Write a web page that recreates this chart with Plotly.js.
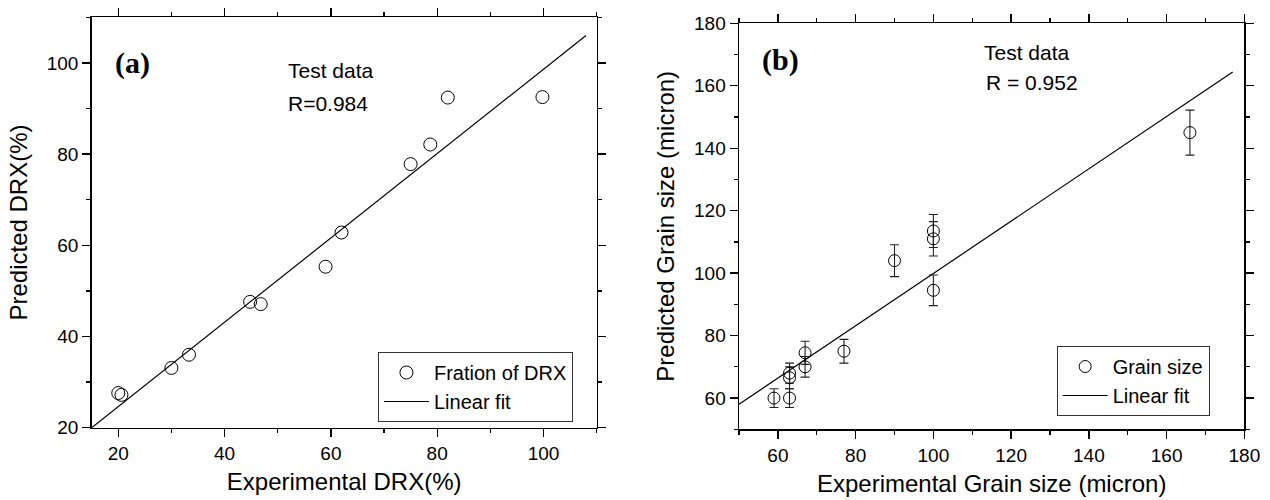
<!DOCTYPE html>
<html>
<head>
<meta charset="utf-8">
<script src="https://cdn.plot.ly/plotly-3.0.1.min.js"></script>
<style>html,body{margin:0;padding:0;background:#fff;}</style>
</head>
<body>
<div id="chart" style="width:1270px;height:500px;"></div>
<script>
// ---- Panel (a): fraction of DRX ----
const drxExperimental = [20, 20.6, 30, 33.3, 44.8, 46.8, 59, 62, 75, 78.7, 82, 99.8];
const drxPredicted    = [27.6, 27.2, 33.1, 36, 47.6, 47.1, 55.3, 62.8, 77.8, 82.1, 92.4, 92.5];
const drxFitX = [15, 108];
const drxFitY = [20, 106];

// ---- Panel (b): grain size ----
const grainExperimental = [59, 63, 63, 63, 67, 67, 77, 90, 100, 100, 100, 166];
const grainPredicted    = [60, 60, 66.5, 68, 70, 74.5, 75, 104, 94.5, 111, 113.5, 145];
const grainError        = [3, 3, 3.5, 3.2, 3.3, 3.7, 3.8, 5.1, 4.9, 5.5, 5.3, 7.2];
const grainFitX = [50, 177];
const grainFitY = [58, 164.4];

const FONT = 'Liberation Sans, Arial, sans-serif';

function axisBase(extra) {
  return Object.assign({
    showline: true, linewidth: 1.5, linecolor: 'black', mirror: 'allticks',
    ticks: 'outside', ticklen: 8, tickwidth: 1.3, tickcolor: 'black',
    showgrid: false, zeroline: false, tick0: 0, dtick: 20,
    tickfont: {family: FONT, size: 19, color: 'black'},
    minor: {dtick: 10, tick0: 0, ticks: 'outside', ticklen: 4, tickwidth: 1.3, tickcolor: 'black', showgrid: false}
  }, extra);
}

const traces = [
  {x: drxExperimental, y: drxPredicted, type: 'scatter', mode: 'markers', name: 'Fration of DRX',
   xaxis: 'x', yaxis: 'y', legend: 'legend',
   marker: {symbol: 'circle-open', size: 13, color: 'black', line: {width: 1, color: 'black'}}},
  {x: drxFitX, y: drxFitY, type: 'scatter', mode: 'lines', name: 'Linear fit',
   xaxis: 'x', yaxis: 'y', legend: 'legend', line: {color: 'black', width: 1.2}},
  {x: grainExperimental, y: grainPredicted, type: 'scatter', mode: 'markers', name: 'Grain size',
   xaxis: 'x2', yaxis: 'y2', legend: 'legend2',
   marker: {symbol: 'circle-open', size: 12, color: 'black', line: {width: 1, color: 'black'}},
   error_y: {type: 'data', array: grainError, visible: true, color: '#222', thickness: 1.1, width: 4.5}},
  {x: grainFitX, y: grainFitY, type: 'scatter', mode: 'lines', name: 'Linear fit',
   xaxis: 'x2', yaxis: 'y2', legend: 'legend2', line: {color: 'black', width: 1.2}}
];

const legendBase = {
  xanchor: 'left', yanchor: 'top', bgcolor: 'white', bordercolor: '#333', borderwidth: 1,
  font: {family: FONT, size: 20, color: 'black'}, tracegroupgap: 0, itemwidth: 45
};

const layout = {
  width: 1270, height: 500,
  margin: {l: 0, r: 0, t: 0, b: 0},
  paper_bgcolor: 'white', plot_bgcolor: 'white',
  font: {family: FONT, color: 'black'},
  showlegend: true,
  xaxis: axisBase({domain: [0.0722, 0.4698], range: [15, 110], anchor: 'y',
    title: {text: 'Experimental DRX(%)', font: {family: FONT, size: 24, color: 'black'}, standoff: 10}}),
  yaxis: axisBase({domain: [0.1446, 0.9654], range: [20, 110], anchor: 'x',
    title: {text: 'Predicted DRX(%)', font: {family: FONT, size: 24, color: 'black'}, standoff: 12}}),
  xaxis2: axisBase({domain: [0.5819, 0.9798], range: [50, 180], anchor: 'y2',
    title: {text: 'Experimental Grain size (micron)', font: {family: FONT, size: 24, color: 'black'}, standoff: 10}}),
  yaxis2: axisBase({domain: [0.1414, 0.9534], range: [50, 180], anchor: 'x2',
    title: {text: 'Predicted Grain size (micron)', font: {family: FONT, size: 24, color: 'black'}, standoff: 12}}),
  legend: Object.assign({}, legendBase, {x: 0.2976, y: 0.296}),
  legend2: Object.assign({}, legendBase, {x: 0.832, y: 0.308}),
  annotations: [
    {text: '<b>(a)</b>', xref: 'paper', yref: 'paper', x: 0.1047, y: 0.874, xanchor: 'center', yanchor: 'middle',
     showarrow: false, font: {family: 'Liberation Serif, Times New Roman, serif', size: 30, color: 'black'}},
    {text: 'Test data', xref: 'paper', yref: 'paper', x: 0.2604, y: 0.8586, xanchor: 'center', yanchor: 'middle',
     showarrow: false, font: {family: FONT, size: 21, color: 'black'}},
    {text: 'R=0.984', xref: 'paper', yref: 'paper', x: 0.2583, y: 0.792, xanchor: 'center', yanchor: 'middle',
     showarrow: false, font: {family: FONT, size: 21, color: 'black'}},
    {text: '<b>(b)</b>', xref: 'paper', yref: 'paper', x: 0.6142, y: 0.88, xanchor: 'center', yanchor: 'middle',
     showarrow: false, font: {family: 'Liberation Serif, Times New Roman, serif', size: 30, color: 'black'}},
    {text: 'Test data', xref: 'paper', yref: 'paper', x: 0.8084, y: 0.8954, xanchor: 'center', yanchor: 'middle',
     showarrow: false, font: {family: FONT, size: 21, color: 'black'}},
    {text: 'R = 0.952', xref: 'paper', yref: 'paper', x: 0.8124, y: 0.8346, xanchor: 'center', yanchor: 'middle',
     showarrow: false, font: {family: FONT, size: 21, color: 'black'}}
  ]
};

Plotly.newPlot('chart', traces, layout, {displayModeBar: false, staticPlot: true});
</script>
</body>
</html>
